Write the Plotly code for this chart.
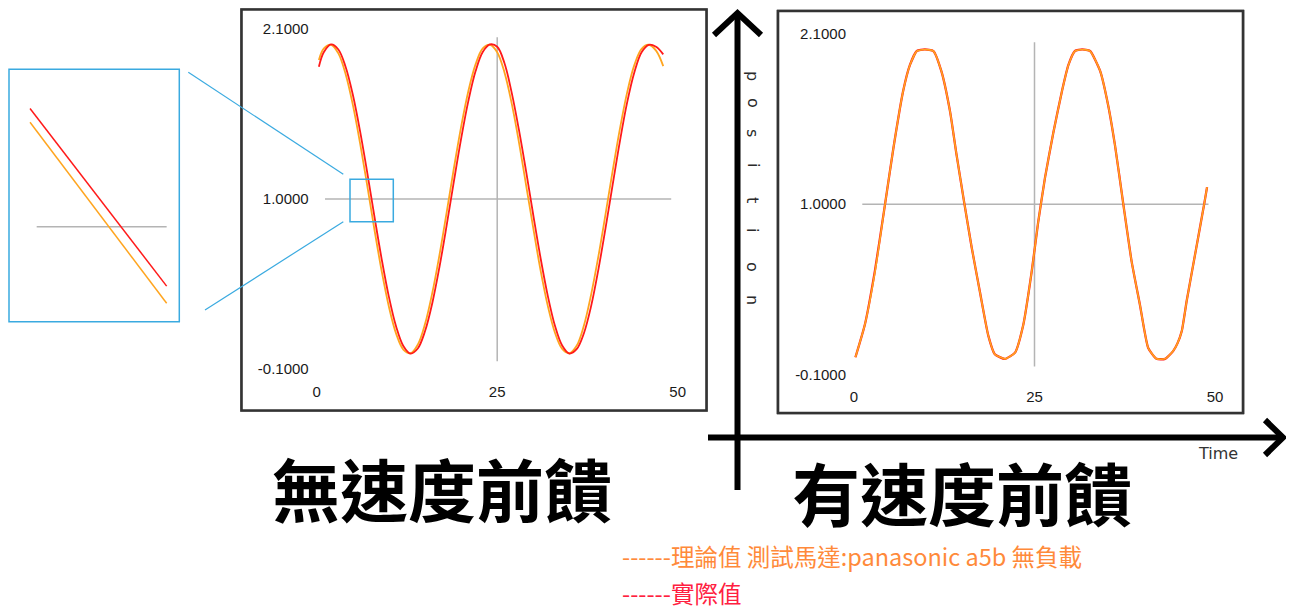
import plotly.graph_objects as go

# the page body keeps an 8px margin, so the figure fills the rest of the window
OFF = 8
W, H = 1294 - OFF, 612 - OFF

# ---- data (x = time, y = position) ----
# left chart: without velocity feedforward
left_x = [0.3] + list(range(1, 49))
left_theory = [1.900, 1.974, 1.998, 1.942, 1.809, 1.611, 1.363, 1.086, 0.801, 0.533,
               0.303, 0.129, 0.026, 0.002, 0.058, 0.191, 0.390, 0.637, 0.914, 1.199,
               1.467, 1.697, 1.871, 1.974, 1.998, 1.950, 1.820, 1.620, 1.370, 1.090,
               0.810, 0.540, 0.310, 0.135, 0.030, 0.002, 0.050, 0.180, 0.380, 0.625,
               0.900, 1.185, 1.455, 1.690, 1.868, 1.972, 1.998, 1.960, 1.860]
left_actual = [1.856, 1.951, 2.000, 1.967, 1.856, 1.676, 1.441, 1.171, 0.886, 0.611,
               0.367, 0.175, 0.049, 0.000, 0.033, 0.144, 0.324, 0.559, 0.829, 1.114,
               1.389, 1.633, 1.826, 1.951, 2.000, 1.985, 1.880, 1.690, 1.450, 1.180,
               0.895, 0.620, 0.375, 0.180, 0.052, 0.000, 0.028, 0.130, 0.305, 0.540,
               0.810, 1.095, 1.375, 1.625, 1.820, 1.950, 1.998, 1.985, 1.936]

# right chart: with velocity feedforward
right_x = [0.2, 1.5, 2.9, 4.3, 5.45, 6.8, 7.75, 8.7, 9.8, 11.0, 12.1, 13.3, 14.2, 15.3,
           16.3, 17.45, 18.6, 19.5, 20.9, 22.3, 23.45, 24.6, 25.5, 26.45, 27.6, 28.8,
           29.7, 30.6, 31.6, 32.7, 34.1, 35.2, 36.15, 37.3, 38.45, 39.6, 40.75, 41.9,
           43.1, 44.2, 44.8, 45.4, 46.1, 47.3, 48.5, 48.9]
right_theory = [0.01, 0.22, 0.56, 1.00, 1.36, 1.73, 1.90, 1.99, 2.00, 1.99, 1.86, 1.60,
                1.32, 1.00, 0.72, 0.43, 0.15, 0.03, 0.00, 0.04, 0.22, 0.56, 0.88, 1.17,
                1.46, 1.73, 1.90, 1.99, 2.00, 1.99, 1.86, 1.64, 1.38, 1.00, 0.63, 0.35,
                0.07, 0.00, 0.00, 0.05, 0.10, 0.18, 0.38, 0.69, 1.00, 1.11]
right_actual = [0.01, 0.22, 0.57, 1.00, 1.36, 1.73, 1.90, 1.99, 2.00, 1.99, 1.86, 1.60,
                1.32, 1.00, 0.72, 0.43, 0.15, 0.03, 0.00, 0.04, 0.22, 0.56, 0.88, 1.17,
                1.46, 1.73, 1.90, 1.99, 2.00, 1.99, 1.86, 1.64, 1.38, 1.00, 0.63, 0.35,
                0.07, 0.00, 0.00, 0.05, 0.10, 0.18, 0.38, 0.69, 1.00, 1.11]

# zoomed inset (schematic, unit box)
inset_x = [0.127, 0.926]
inset_actual = [0.845, 0.141]
inset_theory = [0.790, 0.073]
inset_ref_x = [0.166, 0.926]
inset_ref_y = [0.376, 0.376]

x_ticks = [0, 25, 50]
y_ticks = [-0.1, 1.0, 2.1]
y_tick_text = ["-0.1000", "1.0000", "2.1000"]

ORANGE = "#FFA51F"
RED = "#FF1A1A"
BLUE = "#3AAAE0"
GRID = "#B4B4B4"


def px(x):
    # window pixel -> paper fraction
    return (x - OFF) / W


def py(y):
    return 1 - (y - OFF) / H


fig = go.Figure()

fig.add_trace(go.Scatter(x=left_x, y=left_theory, mode="lines", line=dict(color=ORANGE, width=1.8, shape="spline"),
                         xaxis="x", yaxis="y", showlegend=False))
fig.add_trace(go.Scatter(x=left_x, y=left_actual, mode="lines", line=dict(color=RED, width=1.8, shape="spline"),
                         xaxis="x", yaxis="y", showlegend=False))
fig.add_trace(go.Scatter(x=right_x, y=right_actual, mode="lines",
                         line=dict(color=RED, width=2.3, shape="spline", smoothing=0.5),
                         xaxis="x2", yaxis="y2", showlegend=False))
fig.add_trace(go.Scatter(x=right_x, y=right_theory, mode="lines",
                         line=dict(color=ORANGE, width=1.6, shape="spline", smoothing=0.5),
                         xaxis="x2", yaxis="y2", showlegend=False))
fig.add_trace(go.Scatter(x=inset_ref_x, y=inset_ref_y, mode="lines", line=dict(color=GRID, width=1.5),
                         xaxis="x3", yaxis="y3", showlegend=False))
fig.add_trace(go.Scatter(x=inset_x, y=inset_theory, mode="lines", line=dict(color=ORANGE, width=1.5),
                         xaxis="x3", yaxis="y3", showlegend=False))
fig.add_trace(go.Scatter(x=inset_x, y=inset_actual, mode="lines", line=dict(color=RED, width=1.5),
                         xaxis="x3", yaxis="y3", showlegend=False))

tick_font = dict(family="Liberation Sans, Arial", size=15, color="#1A1A1A")
common = dict(showgrid=False, zeroline=False, showline=False, fixedrange=True, automargin=False,
              ticks="outside", tickcolor="rgba(0,0,0,0)", tickfont=tick_font)

fig.update_layout(
    width=W, height=H, autosize=False,
    margin=dict(l=0, r=0, t=0, b=0, pad=0, autoexpand=False),
    paper_bgcolor="white", plot_bgcolor="rgba(0,0,0,0)",
    xaxis=dict(domain=[px(316.7), px(677.7)], range=[0, 50], tickvals=x_ticks, ticklen=9, anchor="y", **common),
    yaxis=dict(domain=[py(369), py(29)], range=[-0.1, 2.1], tickvals=y_ticks, ticktext=y_tick_text,
               ticklen=4, anchor="x", **common),
    xaxis2=dict(domain=[px(854), px(1215)], range=[0, 50], tickvals=x_ticks, ticklen=9, anchor="y2", **common),
    yaxis2=dict(domain=[py(374.3), py(34)], range=[-0.1, 2.1], tickvals=y_ticks, ticktext=y_tick_text,
                ticklen=4, anchor="x2", **common),
    xaxis3=dict(domain=[px(8.3), px(179.3)], range=[0, 1], visible=False, anchor="y3", fixedrange=True,
                automargin=False),
    yaxis3=dict(domain=[py(321.7), py(69.3)], range=[0, 1], visible=False, anchor="x3", fixedrange=True,
                automargin=False),
)

shapes = []
# cross lines inside both charts
for xa, ya in (("x", "y"), ("x2", "y2")):
    shapes.append(dict(type="line", xref=xa, yref=ya, x0=1.15, x1=49.1, y0=1.0, y1=1.0,
                       line=dict(color=GRID, width=1.5), layer="below"))
    shapes.append(dict(type="line", xref=xa, yref=ya, x0=25, x1=25, y0=-0.05, y1=2.046,
                       line=dict(color=GRID, width=1.5), layer="below"))

# chart frames
for x0, y0, x1, y1 in ((241.5, 9.5, 706.5, 410.5), (778, 11, 1243, 413)):
    shapes.append(dict(type="rect", xref="paper", yref="paper", x0=px(x0 - 1), x1=px(x1 + 1), y0=py(y1 + 1), y1=py(y0 - 1),
                       line=dict(color="#A8A8A8", width=1)))
    shapes.append(dict(type="rect", xref="paper", yref="paper", x0=px(x0), x1=px(x1), y0=py(y1), y1=py(y0),
                       line=dict(color="#333333", width=2.6)))

# zoom square, inset frame and connectors
shapes.append(dict(type="rect", xref="paper", yref="paper", x0=px(350), x1=px(393.3), y0=py(221.7), y1=py(179.3),
                   line=dict(color=BLUE, width=1.5)))
shapes.append(dict(type="rect", xref="paper", yref="paper", x0=px(9), x1=px(179.3), y0=py(321.7), y1=py(69.3),
                   line=dict(color=BLUE, width=1.5)))
shapes.append(dict(type="line", xref="paper", yref="paper", x0=px(188.3), y0=py(72.3), x1=px(343.3), y1=py(174.3),
                   line=dict(color=BLUE, width=1.2)))
shapes.append(dict(type="line", xref="paper", yref="paper", x0=px(205), y0=py(310), x1=px(343.3), y1=py(221.7),
                   line=dict(color=BLUE, width=1.2)))

# big axis arrows
arrow = dict(color="black", width=6)
shapes.append(dict(type="line", xref="paper", yref="paper", x0=px(737.5), x1=px(737.5), y0=py(490), y1=py(13),
                   line=arrow))
shapes.append(dict(type="path", xref="paper", yref="paper",
                   path=f"M {px(714)} {py(35)} L {px(737.5)} {py(13)} L {px(761)} {py(35)}", line=arrow))
shapes.append(dict(type="line", xref="paper", yref="paper", x0=px(708), x1=px(1282), y0=py(437.5), y1=py(437.5),
                   line=arrow))
shapes.append(dict(type="path", xref="paper", yref="paper",
                   path=f"M {px(1265)} {py(420)} L {px(1283)} {py(437.5)} L {px(1265)} {py(455)}", line=arrow))

annotations = []


def note(text, x, y, size, color, family="Noto Sans CJK TC", xanchor="center", angle=0, weight="normal"):
    annotations.append(dict(text=text, x=px(x), y=py(y), xref="paper", yref="paper", showarrow=False,
                            xanchor=xanchor, yanchor="middle", textangle=angle,
                            font=dict(family=family, size=size, color=color, weight=weight)))


note("無速度前饋", 442, 488, 68, "black", weight="bold")
note("有速度前饋", 962, 491, 68, "black", weight="bold")
note("------理論值 測試馬達:panasonic a5b 無負載", 620, 556, 23.5, "#FF8A3A", xanchor="left")
note("------實際值", 620, 593, 23.5, "#FF2040", xanchor="left")
note("Time", 1218, 453, 16, "#333", family="DejaVu Sans, Liberation Sans")
for letter, yy in zip("position", [76, 103, 133, 165, 200, 230, 267, 300]):
    note(letter, 753, yy, 16, "#2A2A2A", family="DejaVu Sans, Liberation Sans", angle=90)

fig.update_layout(shapes=shapes, annotations=annotations)

fig.write_html("out.html")
